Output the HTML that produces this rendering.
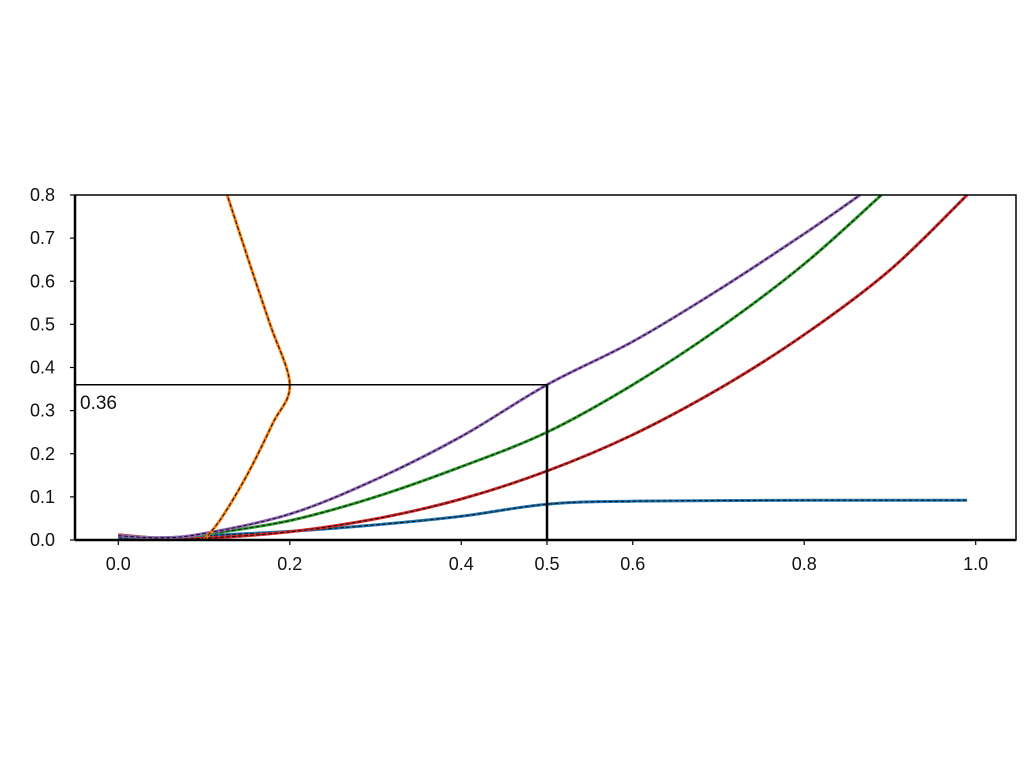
<!DOCTYPE html>
<html><head><meta charset="utf-8"><style>
html,body{margin:0;padding:0;background:#fff;}
svg{display:block;font-family:"Liberation Sans","DejaVu Sans",sans-serif;}
</style></head><body>
<svg id="chart" width="1024" height="768"></svg>
<script>
const xTicks=[0.0,0.2,0.4,0.5,0.6,0.8,1.0];
const xTickLabels=["0.0","0.2","0.4","0.5","0.6","0.8","1.0"];
const yTicks=[0,0.1,0.2,0.3,0.4,0.5,0.6,0.7,0.8];
const yTickLabels=["0.0","0.1","0.2","0.3","0.4","0.5","0.6","0.7","0.8"];
const purpleX=[0,0.05,0.1,0.2,0.3,0.4,0.5,0.6,0.7,0.8,0.865];
const purpleY=[0.01,0.005,0.015,0.06,0.14,0.24,0.36,0.46,0.58,0.71,0.8];
const greenX=[0,0.05,0.1,0.2,0.3,0.4,0.5,0.6,0.7,0.8,0.89];
const greenY=[0.01,0.005,0.013,0.045,0.1,0.17,0.25,0.36,0.49,0.64,0.8];
const redX=[0,0.05,0.1,0.2,0.3,0.4,0.5,0.6,0.7,0.8,0.9,0.99];
const redY=[0.012,0.004,0.004,0.019,0.049,0.095,0.16,0.244,0.35,0.476,0.626,0.8];
const blueX=[0,0.05,0.1,0.2,0.3,0.4,0.5,0.6,0.8,0.99];
const blueY=[0.005,0.005,0.01,0.02,0.035,0.055,0.083,0.09,0.092,0.092];
const orangeX=[0.1,0.12,0.15,0.18,0.2,0.177,0.155,0.127];
const orangeY=[0,0.05,0.15,0.27,0.36,0.5,0.63,0.8];
const markX=[0.5];
const markY=[0.36];
const markLabels=["0.36"];

const L=75,R=1016,T=195,B=540;
const xMin=-0.0505,xMax=1.047,yMin=0,yMax=0.8;
const sx=v=>L+(v-xMin)/(xMax-xMin)*(R-L);
const sy=v=>B-(v-yMin)/(yMax-yMin)*(B-T);
const svg=document.getElementById('chart');
const NS='http://www.w3.org/2000/svg';
function mk(tag,attrs,parent){const e=document.createElementNS(NS,tag);for(const k in attrs)e.setAttribute(k,attrs[k]);(parent||svg).appendChild(e);return e;}

const clip=mk('clipPath',{id:'clp'});mk('rect',{x:L,y:T,width:R-L,height:B-T},clip);
const plot=mk('g',{'clip-path':'url(#clp)'});



function smoothPath(p){
  let d='M'+p[0][0].toFixed(1)+','+p[0][1].toFixed(1);
  for(let i=0;i<p.length-1;i++){
    const p0=p[Math.max(0,i-1)],p1=p[i],p2=p[i+1],p3=p[Math.min(p.length-1,i+2)];
    const c1=[p1[0]+(p2[0]-p0[0])/6,p1[1]+(p2[1]-p0[1])/6];
    const c2=[p2[0]-(p3[0]-p1[0])/6,p2[1]-(p3[1]-p1[1])/6];
    d+=' C'+c1.map(v=>v.toFixed(1)).join(',')+' '+c2.map(v=>v.toFixed(1)).join(',')+' '+p2.map(v=>v.toFixed(1)).join(',');
  }
  return d;
}
function series(xs,ys,color,name,smooth){
  const p=xs.map((x,i)=>[sx(x),sy(ys[i])]);
  let d;
  if(smooth)d=smoothPath(p);else d='M'+p.map(q=>q[0].toFixed(1)+','+q[1].toFixed(1)).join(' L');
  const g=mk('g',{},plot);
  
  
  mk('path',{d:d,fill:'none',stroke:color,'stroke-width':3,'stroke-linejoin':'round'},g);
  mk('path',{d:d,fill:'none',stroke:'#111','stroke-width':1,'stroke-dasharray':'4 2'},g);
}
series(blueX,blueY,'#1f77b4','blue-line',true);
series(redX,redY,'#d62728','red-line',true);
series(greenX,greenY,'#2ca02c','green-line',true);
series(purpleX,purpleY,'#9467bd','purple-line',true);
series(orangeX,orangeY,'#ff7f0e','orange-line',true);

const ml=mk('g',{});


mk('line',{x1:L,x2:sx(markX[0]),y1:sy(markY[0]),y2:sy(markY[0]),stroke:'#000','stroke-width':1.5},ml);
mk('line',{x1:sx(markX[0]),x2:sx(markX[0]),y1:sy(markY[0]),y2:B,stroke:'#000','stroke-width':2.5},ml);
const mt=mk('text',{x:L+5,y:sy(markY[0])+24,'font-size':19,fill:'#111'},ml);
mt.textContent=markLabels[0];



const fr=mk('rect',{x:L,y:T,width:R-L,height:B-T,fill:'none',stroke:'#000','stroke-width':1.5});


mk('line',{x1:L,x2:R,y1:B,y2:B,stroke:'#000','stroke-width':2.5});
mk('line',{x1:L,x2:L,y1:T,y2:B,stroke:'#000','stroke-width':2.5});

const xa=mk('g',{});


xTicks.forEach((v,i)=>{
  mk('line',{x1:sx(v),x2:sx(v),y1:B,y2:B+5,stroke:'#000','stroke-width':1.2},xa);
  const t=mk('text',{x:sx(v),y:B+30,'font-size':18,'text-anchor':'middle',fill:'#111'},xa);
  t.textContent=xTickLabels[i];
  
  
});
const ya=mk('g',{});


yTicks.forEach((v,i)=>{
  mk('line',{x1:L-5,x2:L,y1:sy(v),y2:sy(v),stroke:'#000','stroke-width':1.2},ya);
  const t=mk('text',{x:L-20,y:sy(v)+6,'font-size':18,'text-anchor':'end',fill:'#111'},ya);
  t.textContent=yTickLabels[i];
  
  
});
</script>
</body></html>
